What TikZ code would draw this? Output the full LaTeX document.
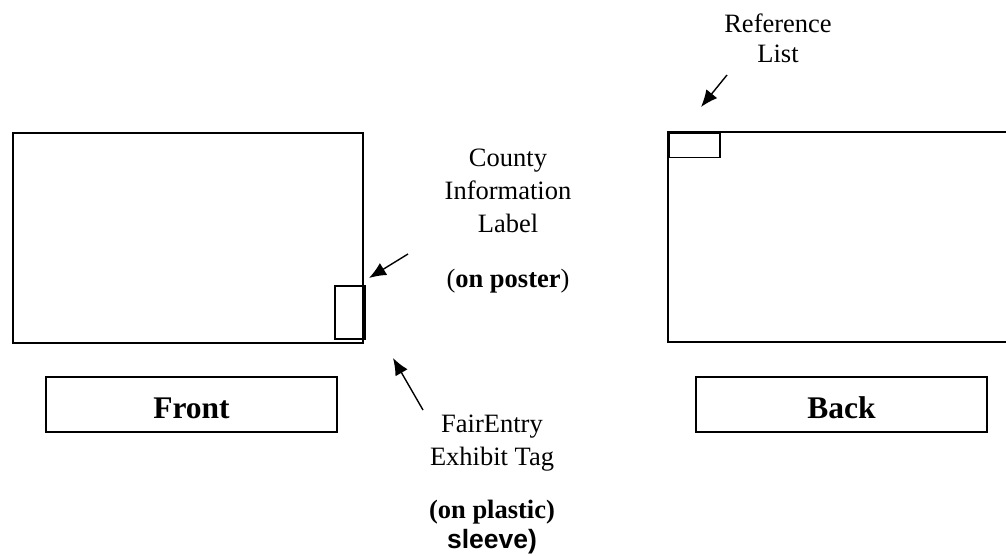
\documentclass[tikz,border=0pt]{standalone}
\usepackage{fontspec}
\setmainfont{Liberation Serif}
\newfontfamily\arialfont{Liberation Sans}
\usetikzlibrary{arrows.meta,positioning}

\tikzset{
	poster/.style={draw, line width=1.8pt, inner sep=0pt, anchor=north west},
	tag/.style={draw, line width=1.5pt, inner sep=0pt, anchor=north west},
	sidebox/.style={draw, line width=2pt, minimum width=291pt, minimum height=55pt,
		text height=27pt, text depth=0pt, inner sep=0pt,
		font=\fontsize{31.5}{36}\selectfont\bfseries},
	lbl/.style={anchor=base, inner sep=0pt, font=\fontsize{26.5}{33}\selectfont},
	pointer/.style={-{Latex[length=17pt,width=14pt]}, line width=1.4pt}
}

\begin{document}
\begin{tikzpicture}[x=1pt,y=-1pt]
	\useasboundingbox (0,0) rectangle (1006,556);

	% front of the poster
	\node(front) [poster, minimum width=350pt, minimum height=210pt] at (12,132) {};
	\node(countytag) [tag, minimum width=30pt, minimum height=53pt] at (334,285) {};
	\node(frontbox) [sidebox] at (191.5,404.5) {Front};

	% back of the poster
	\draw[line width=1.8pt] (1006,132) -| (668,342) -- (1006,342);
	\node(reftag) [tag, minimum width=51pt, minimum height=24pt] at (668,133) {};
	\node(backbox) [sidebox] at (841.5,404.5) {Back};

	% labels
	\node(county) [lbl] at (508,167) {County};
	\node(info)   [lbl] at (508,200) {Information};
	\node(label)  [lbl] at (508,233) {Label};
	\node(poster) [lbl] at (508,287) {(\textbf{on poster})};

	\node(fair)    [lbl] at (492,432) {FairEntry};
	\node(exhibit) [lbl] at (492,465) {Exhibit Tag};
	\node(plastic) [lbl] at (492,518) {\bfseries (on plastic)};
	\node(sleeve)  [lbl] at (492,548) {\arialfont\bfseries sleeve)};

	\node(reference) [lbl] at (778,33) {Reference};
	\node(list)      [lbl] at (778,63) {List};

	% arrows
	\coordinate(countytail) at (408,254);
	\coordinate(countytip)  at (369,278);
	\coordinate(fairtail)   at (423,410);
	\coordinate(fairtip)    at (393,358);
	\coordinate(reftail)    at (727,75);
	\coordinate(reftip)     at (701,107);

	\draw[pointer] (countytail) -- (countytip);
	\draw[pointer] (fairtail) -- (fairtip);
	\draw[pointer] (reftail) -- (reftip);
\end{tikzpicture}
\end{document}
